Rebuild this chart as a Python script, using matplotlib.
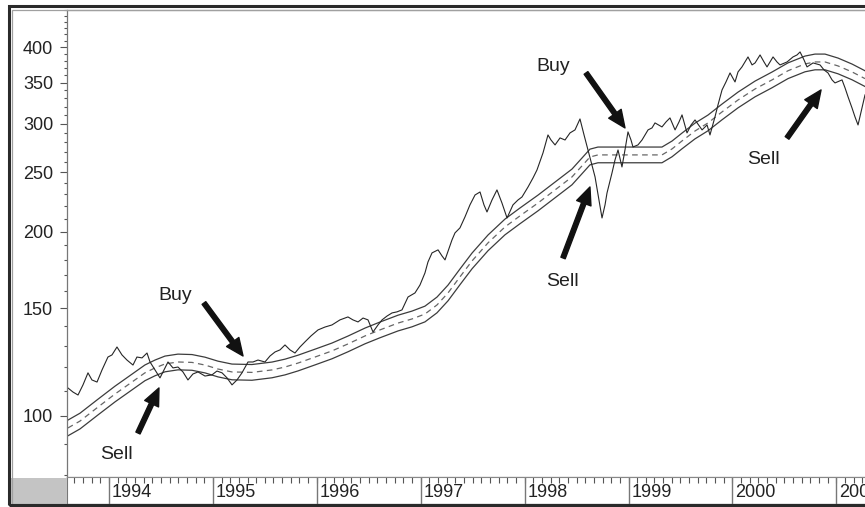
import matplotlib
matplotlib.use('Agg')
import matplotlib.pyplot as plt
from matplotlib.ticker import FixedLocator, NullFormatter, FixedFormatter
from matplotlib.patches import Rectangle

plt.rcParams['font.family'] = ['Liberation Sans', 'DejaVu Sans']

# ---------------- data ----------------
years = [1993.605, 1993.654, 1993.702, 1993.750, 1993.798, 1993.836, 1993.885, 1993.933, 1993.990,
         1994.029, 1994.077, 1994.125, 1994.173, 1994.231, 1994.269, 1994.318, 1994.366, 1994.395,
         1994.443, 1994.491, 1994.529, 1994.568, 1994.616, 1994.664, 1994.712, 1994.760, 1994.808,
         1994.857, 1994.924, 1994.991, 1995.039, 1995.088, 1995.136, 1995.184, 1995.232, 1995.280,
         1995.338, 1995.386, 1995.434, 1995.501, 1995.550, 1995.598, 1995.646, 1995.694, 1995.742,
         1995.790, 1995.838, 1995.886, 1995.944, 1996.012, 1996.079, 1996.146, 1996.223, 1996.300,
         1996.348, 1996.397, 1996.445, 1996.493, 1996.541, 1996.589, 1996.628, 1996.676, 1996.724,
         1996.772, 1996.820, 1996.878, 1996.945, 1996.993, 1997.041, 1997.070, 1997.109, 1997.167,
         1997.205, 1997.234, 1997.301, 1997.330, 1997.378, 1997.426, 1997.474, 1997.523, 1997.571,
         1997.609, 1997.638, 1997.686, 1997.734, 1997.782, 1997.831, 1997.888, 1997.936, 1997.975,
         1998.033, 1998.081, 1998.119, 1998.177, 1998.225, 1998.254, 1998.293, 1998.341, 1998.389,
         1998.437, 1998.485, 1998.533, 1998.572, 1998.610, 1998.649, 1998.678, 1998.716, 1998.745,
         1998.774, 1998.793, 1998.841, 1998.870, 1998.899, 1998.937, 1998.966, 1998.995, 1999.024,
         1999.043, 1999.091, 1999.130, 1999.188, 1999.226, 1999.255, 1999.322, 1999.361, 1999.399,
         1999.448, 1999.486, 1999.515, 1999.563, 1999.602, 1999.640, 1999.708, 1999.756, 1999.784,
         1999.832, 1999.861, 1999.900, 1999.938, 1999.977, 2000.025, 2000.054, 2000.092, 2000.150,
         2000.189, 2000.218, 2000.266, 2000.304, 2000.333, 2000.391, 2000.429, 2000.458, 2000.526,
         2000.583, 2000.622, 2000.651, 2000.689, 2000.718, 2000.776, 2000.843, 2000.882, 2000.920,
         2000.959, 2000.987, 2001.055, 2001.084, 2001.113, 2001.151, 2001.180, 2001.209, 2001.238,
         2001.276]
price = [111.1, 109.4, 108.2, 112.4, 117.6, 114.5, 113.6, 118.9, 124.8,
         125.8, 129.6, 125.8, 123.4, 121.1, 124.8, 124.4, 126.7, 122.5,
         118.9, 115.4, 118.9, 122.5, 119.8, 120.2, 118.0, 114.5, 117.1,
         118.0, 116.2, 116.7, 118.4, 117.6, 115.4, 112.4, 114.5, 117.6,
         122.5, 122.5, 123.4, 122.5, 125.3, 127.2, 128.2, 130.6, 128.2,
         126.7, 129.6, 132.1, 135.1, 138.2, 139.7, 140.8, 143.5, 145.1,
         143.5, 142.4, 144.5, 143.5, 137.1, 140.8, 143.5, 145.6, 147.3,
         147.9, 149.0, 156.4, 158.8, 163.6, 171.2, 178.4, 184.6, 186.7,
         182.5, 179.8, 193.8, 199.0, 202.8, 211.3, 221.1, 229.5, 232.1,
         221.1, 215.3, 225.2, 233.9, 222.7, 210.5, 221.1, 225.2, 227.8,
         236.5, 244.7, 252.1, 268.8, 287.6, 282.2, 277.0, 284.4, 282.2,
         289.8, 293.1, 305.4, 287.6, 271.8, 256.9, 245.6, 225.2, 210.5,
         221.1, 231.2, 249.3, 261.8, 271.8, 255.0, 271.8, 290.9, 282.2,
         274.9, 277.0, 282.2, 293.1, 295.3, 300.9, 296.4, 302.0, 306.6,
         293.1, 302.0, 310.1, 289.8, 298.6, 304.3, 293.1, 298.6, 287.6,
         307.7, 321.9, 340.6, 351.0, 363.1, 351.0, 364.5, 371.4, 385.6,
         374.2, 377.0, 388.5, 378.4, 371.4, 385.6, 378.4, 374.2, 378.4,
         385.6, 388.5, 392.9, 381.3, 371.4, 377.0, 374.2, 367.2, 363.1,
         353.7, 349.7, 353.7, 343.2, 331.8, 318.3, 307.7, 298.6, 313.6,
         334.3]

ma_years = [1993.605, 1993.721, 1993.894, 1994.058, 1994.221, 1994.346, 1994.443, 1994.539,
            1994.664, 1994.799, 1994.924, 1995.049, 1995.184, 1995.376, 1995.569, 1995.694,
            1995.819, 1995.983, 1996.146, 1996.300, 1996.464, 1996.608, 1996.782, 1996.916,
            1997.041, 1997.157, 1997.263, 1997.378, 1997.494, 1997.648, 1997.811, 1997.956,
            1998.129, 1998.293, 1998.456, 1998.552, 1998.629, 1998.706, 1999.322, 1999.419,
            1999.515, 1999.640, 1999.765, 1999.900, 2000.054, 2000.218, 2000.381, 2000.535,
            2000.699, 2000.795, 2000.891, 2001.016, 2001.151, 2001.276]
ma = [95.6, 98.1, 103.4, 108.6, 113.6, 117.6, 119.8, 121.6,
      122.5, 122.3, 121.1, 119.3, 118.0, 117.8, 118.9, 120.2,
      122.0, 124.8, 127.7, 131.1, 135.1, 138.2, 141.8, 144.0,
      146.7, 151.8, 158.8, 168.7, 179.1, 191.7, 203.5, 212.2,
      222.7, 233.9, 245.6, 256.0, 264.7, 266.8, 266.8, 272.9,
      281.2, 291.9, 300.9, 313.6, 328.0, 341.9, 353.7, 366.1,
      375.6, 378.4, 378.4, 372.8, 364.5, 355.4]
band_pct = 3.0

y_major = [100, 150, 200, 250, 300, 350, 400]
y_minor = [80, 90, 110, 120, 130, 140, 160, 170, 180, 190, 210, 220, 230, 240,
           260, 270, 280, 290, 310, 320, 330, 340, 360, 370, 380, 390,
           410, 420, 430, 440, 450, 460]
year_labels = [1994, 1995, 1996, 1997, 1998, 1999, 2000, 2001]

# signal annotations: label, text (x, y), arrow tail (x, y), arrow tip (x, y)
sig_labels = ["Sell", "Buy", "Buy", "Sell", "Sell"]
sig_text_x = [1994.067, 1994.635, 1998.273, 1998.360, 2000.295]
sig_text_y = [86.4, 157.0, 371.4, 165.5, 261.8]
sig_tail_x = [1994.279, 1994.914, 1998.591, 1998.370, 2000.526]
sig_tail_y = [93.8, 152.9, 363.1, 181.1, 284.4]
sig_tip_x = [1994.481, 1995.290, 1998.966, 1998.629, 2000.853]
sig_tip_y = [111.1, 125.3, 295.3, 236.5, 340.6]

# ---------------- figure ----------------
W, H = 865, 507
fig = plt.figure(figsize=(W / 100, H / 100), dpi=100)
fig.patch.set_facecolor('white')

x0, x1 = 1993.596, 2001.276
ax = fig.add_axes([67 / W, 30 / H, 798 / W, 467 / H])
ax.set_yscale('log')

up = [m * (1 + band_pct / 100) for m in ma]
lo = [m / (1 + band_pct / 100) for m in ma]
ax.plot(ma_years, up, color='#3c3c3c', lw=0.9)
ax.plot(ma_years, lo, color='#3c3c3c', lw=0.9)
ax.plot(ma_years, ma, color='#666666', lw=0.9, dashes=(4.5, 3.5))
ax.plot(years, price, color='#262626', lw=0.8)

ax.yaxis.set_major_locator(FixedLocator(y_major))
ax.yaxis.set_major_formatter(FixedFormatter([str(v) for v in y_major]))
ax.yaxis.set_minor_locator(FixedLocator(y_minor))
ax.yaxis.set_minor_formatter(NullFormatter())
ax.tick_params(axis='y', which='major', length=5, width=0.8, color='#555555',
               pad=5, labelsize=13, labelcolor='#222222')
ax.tick_params(axis='y', which='minor', length=2.5, width=0.8, color='#555555')
ax.set_xticks([])
ax.set_xlim(x0, x1)
ax.set_ylim(79.5, 460)
ax.spines['right'].set_visible(False)
ax.spines['top'].set_color('#999999')
ax.spines['left'].set_color('#777777')
ax.spines['bottom'].set_color('#888888')
for s in ax.spines.values():
    s.set_linewidth(0.9)

for lab, tx, ty, ax_, ay_, hx, hy in zip(sig_labels, sig_text_x, sig_text_y,
                                        sig_tail_x, sig_tail_y, sig_tip_x, sig_tip_y):
    ax.annotate('', xy=(hx, hy), xytext=(ax_, ay_),
                arrowprops=dict(arrowstyle='simple,head_length=1.25,head_width=1.1,tail_width=0.33',
                                mutation_scale=10, color='#111111', shrinkA=0, shrinkB=0))
    ax.text(tx, ty, lab, fontsize=14, color='#222222', ha='center', va='center')

# bottom date strip
sx = fig.add_axes([67 / W, 3 / H, 798 / W, 27 / H])
sx.set_yticks([])
sx.xaxis.set_ticks_position('top')
months = [y + k / 12 for y in range(1993, 2002) for k in range(12)]
sx.set_xticks([])
sx.set_xticks(months, minor=True)
sx.tick_params(axis='x', which='minor', direction='in', length=4, width=0.8, color='#555555')
for yr in year_labels:
    sx.axvline(yr, color='#777777', lw=1.0)
    sx.text(yr + 0.03, 0.42, str(yr), fontsize=13, color='#222222', ha='left', va='center')
sx.set_xlim(x0, x1)
sx.set_ylim(0, 1)
sx.spines['right'].set_visible(False)
sx.spines['left'].set_color('#777777')
sx.spines['top'].set_color('#888888')
sx.spines['bottom'].set_color('#444444')

# gray box at lower left
fig.add_artist(Rectangle((10 / W, 3 / H), 57 / W, 26 / H, transform=fig.transFigure,
                         facecolor='#c4c4c4', edgecolor='none'))
# inner light frame and outer dark frame
fig.add_artist(Rectangle((12 / W, 3 / H), 1.2, (H - 10 - 3) / H, transform=fig.transFigure,
                         facecolor='none', edgecolor='#a0a0a0', lw=0.9))
fig.add_artist(Rectangle((8.5 / W, 2 / H), 1.2, (H - 6 - 2) / H, transform=fig.transFigure,
                         facecolor='none', edgecolor='#2a2a2a', lw=2.2))

fig.savefig('out.png', dpi=100)
